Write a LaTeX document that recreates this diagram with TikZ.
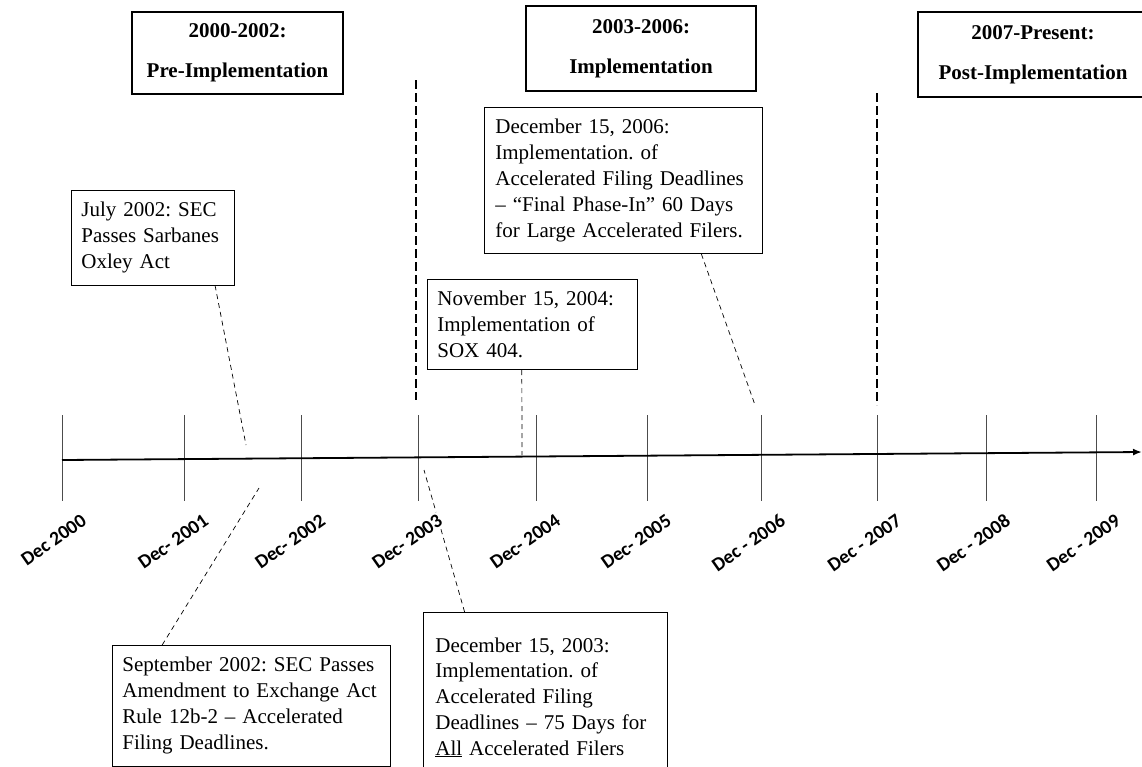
\documentclass[tikz,border=0pt]{standalone}
\usepackage{fontspec}
\setmainfont{Liberation Serif}
\newfontfamily\labfont{Carlito}
\usetikzlibrary{arrows.meta, calc}
\frenchspacing

\tikzset{
  phasebox/.style={draw, line width=2.6pt, align=center, inner sep=0pt,
    font=\fontsize{21}{40}\selectfont\bfseries},
  eventbox/.style={draw, line width=0.7pt, anchor=north west, align=left,
    inner xsep=10pt, inner ysep=12pt, font=\fontsize{21}{25.8}\selectfont},
  ticklab/.style={rotate=35, anchor=east, fill=white, inner sep=1pt,
    font=\labfont\bfseries\fontsize{19.5}{19.5}\selectfont},
  tickline/.style={line width=0.8pt, black!70},
  leader/.style={dash pattern=on 5pt off 4pt, line width=0.7pt},
  divider/.style={dash pattern=on 9pt off 4pt, line width=2.6pt},
}

\begin{document}
\begin{tikzpicture}[x=1pt, y=-1pt]
  \useasboundingbox (0,0) rectangle (1142,766);
  \clip (0,0) rectangle (1142,766);

  % ---- Phase headers ----
  \node[phasebox, minimum width=211pt, minimum height=82pt] (pre) at (237.5,53) {2000-2002:\\Pre-Implementation};
  \node[phasebox, minimum width=230pt, minimum height=85pt] (impl) at (641,48.5) {2003-2006:\\Implementation};
  \node[phasebox, minimum width=230pt, minimum height=85pt] (post) at (1033,54.5) {2007-Present:\\Post-Implementation};

  % ---- Phase dividers ----
  \coordinate (div1a) at (416,80);
  \coordinate (div1b) at (416,400);
  \coordinate (div2a) at (877,93);
  \coordinate (div2b) at (877,405);
  \draw[divider] (div1a) -- (div1b);
  \draw[divider] (div2a) -- (div2b);

  % ---- Events ----
  \node[eventbox, text width=143pt] (jul) at (71,190) {July 2002: SEC\\Passes Sarbanes\\Oxley Act};
  \node[eventbox, text width=190pt] (nov) at (427,279) {November 15, 2004:\\Implementation of\\SOX 404.};
  \node[eventbox, text width=256pt, inner xsep=11pt] (dec06) at (484,107) {December 15, 2006:\\Implementation. of\\Accelerated Filing Deadlines\\-- ``Final Phase-In'' 60 Days\\for Large Accelerated Filers.};
  \node[eventbox, text width=258pt] (sep) at (112,645) {September 2002: SEC Passes\\Amendment to Exchange Act\\Rule 12b-2 -- Accelerated\\Filing Deadlines.};
  \node[eventbox, text width=220pt, inner xsep=12pt, minimum height=170pt] (dec03) at (423,612) {December 15, 2003:\\Implementation. of\\Accelerated Filing\\Deadlines -- 75 Days for\\\underline{All} Accelerated Filers\\[40pt]};

  % ---- Leader ends near the axis ----
  \coordinate (pjul) at (246,445);
  \coordinate (pnov) at (522,455);
  \coordinate (pdec06) at (755,405);
  \coordinate (psep) at (259,488);
  \coordinate (pdec03) at (424,470);

  \draw[leader] ($(jul.south west)!0.88!(jul.south east)$) -- (pjul);
  \draw[leader] ($(nov.south west)!0.45!(nov.south east)$) -- (pnov);
  \draw[leader] ($(dec06.south west)!0.78!(dec06.south east)$) -- (pdec06);
  \draw[leader] ($(sep.north west)!0.18!(sep.north east)$) -- (psep);
  \draw[leader] ($(dec03.north west)!0.17!(dec03.north east)$) -- (pdec03);

  % ---- Time axis ----
  \coordinate (axstart) at (62,460);
  \coordinate (axend) at (1142,452);
  \foreach \x/\yr/\lab in {62/2000/Dec 2000, 184/2001/Dec- 2001, 301/2002/Dec- 2002,
      418/2003/Dec- 2003, 536/2004/Dec- 2004, 647/2005/Dec- 2005, 761/2006/Dec - 2006,
      877/2007/Dec - 2007, 986/2008/Dec - 2008, 1096/2009/Dec - 2009}{
    \coordinate (t\yr) at (\x,415);
    \draw[tickline] (t\yr) -- ++(0,86);
    \node[ticklab] (lab\yr) at (\x+23,518) {\lab};
  }
  \draw[line width=1.8pt, -{Latex[length=9pt, width=7pt]}] (axstart) -- (axend);

\end{tikzpicture}
\end{document}
